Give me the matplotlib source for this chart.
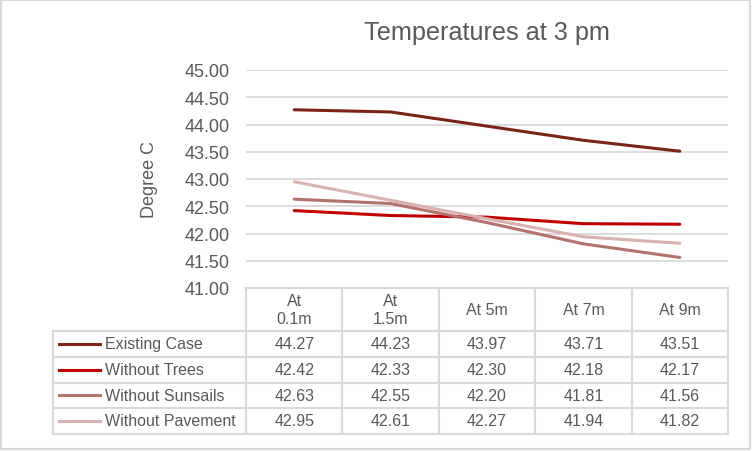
import matplotlib.pyplot as plt
from matplotlib.patches import Rectangle

categories = ["At\n0.1m", "At\n1.5m", "At 5m", "At 7m", "At 9m"]
series_names = ["Existing Case", "Without Trees", "Without Sunsails", "Without Pavement"]
existing_case = [44.27, 44.23, 43.97, 43.71, 43.51]
without_trees = [42.42, 42.33, 42.30, 42.18, 42.17]
without_sunsails = [42.63, 42.55, 42.20, 41.81, 41.56]
without_pavement = [42.95, 42.61, 42.27, 41.94, 41.82]
y_ticks = [41.0, 41.5, 42.0, 42.5, 43.0, 43.5, 44.0, 44.5, 45.0]

series_values = [existing_case, without_trees, without_sunsails, without_pavement]
colors = ["#7B2413", "#C00000", "#B5716C", "#D8B2AE"]
text_col = "#595959"
grid_col = "#D9D9D9"

W, H = 752, 452
fig = plt.figure(figsize=(W / 100, H / 100), dpi=100)
plt.rcParams['font.family'] = ['Liberation Sans', 'DejaVu Sans']

# plot area in pixel terms
left, right, top, bottom = 246, 728, 71, 289
ax = fig.add_axes([left / W, 1 - bottom / H, (right - left) / W, (bottom - top) / H])
n = len(categories)
xs = list(range(n))
for vals, col, name in zip(series_values, colors, series_names):
    ax.plot(xs, vals, color=col, lw=2.2, label=name, solid_capstyle='round')
ax.set_xlim(-0.5, n - 0.5)
ax.set_ylim(41, 45)
ax.set_yticks(y_ticks)
ax.set_yticklabels([f"{v:.2f}" for v in y_ticks], fontsize=13, color=text_col)
ax.tick_params(axis='y', length=0, pad=12)
ax.set_xticks([])
ax.yaxis.grid(True, color=grid_col, lw=1.3)
ax.set_axisbelow(True)
for s in ax.spines.values():
    s.set_visible(False)
ax.set_ylabel("Degree C", fontsize=13, color=text_col, labelpad=19)
ax.set_title("Temperatures at 3 pm", fontsize=18.2, color=text_col, pad=22)

# overlay in pixel coordinates for the data table and chart border
ov = fig.add_axes([0, 0, 1, 1], zorder=-1)
ov.set_xlim(0, W)
ov.set_ylim(H, 0)
ov.axis('off')
ov.add_patch(Rectangle((1, 1), 749, 449, fill=False, ec=grid_col, lw=1.5))

col_w = (right - left) / n
col_edges = [left + i * col_w for i in range(n + 1)]
leg_left = 53
row_edges = [332, 357.5, 383.5, 409, 434.5]

tab = fig.add_axes([0, 0, 1, 1])
tab.set_xlim(0, W)
tab.set_ylim(H, 0)
tab.axis('off')
lc = dict(color=grid_col, lw=1.5)
# header row
tab.plot([left, right], [bottom, bottom], **lc)
for x in col_edges:
    tab.plot([x, x], [bottom, row_edges[-1]], **lc)
tab.plot([leg_left, leg_left], [row_edges[0], row_edges[-1]], **lc)
for y in row_edges:
    tab.plot([leg_left, right], [y, y], **lc)

for i, lab in enumerate(categories):
    cx = (col_edges[i] + col_edges[i + 1]) / 2
    tab.text(cx, (bottom + row_edges[0]) / 2, lab, ha='center', va='center',
             fontsize=11.5, color=text_col, linespacing=1.25)

for r, (vals, col, name) in enumerate(zip(series_values, colors, series_names)):
    cy = (row_edges[r] + row_edges[r + 1]) / 2
    tab.plot([59, 100], [cy, cy], color=col, lw=2.2)
    tab.text(105, cy, name, ha='left', va='center', fontsize=11.5, color=text_col)
    for i, v in enumerate(vals):
        cx = (col_edges[i] + col_edges[i + 1]) / 2
        tab.text(cx, cy, f"{v:.2f}", ha='center', va='center', fontsize=11.5, color=text_col)

fig.savefig("out.png", dpi=100, facecolor='white')
